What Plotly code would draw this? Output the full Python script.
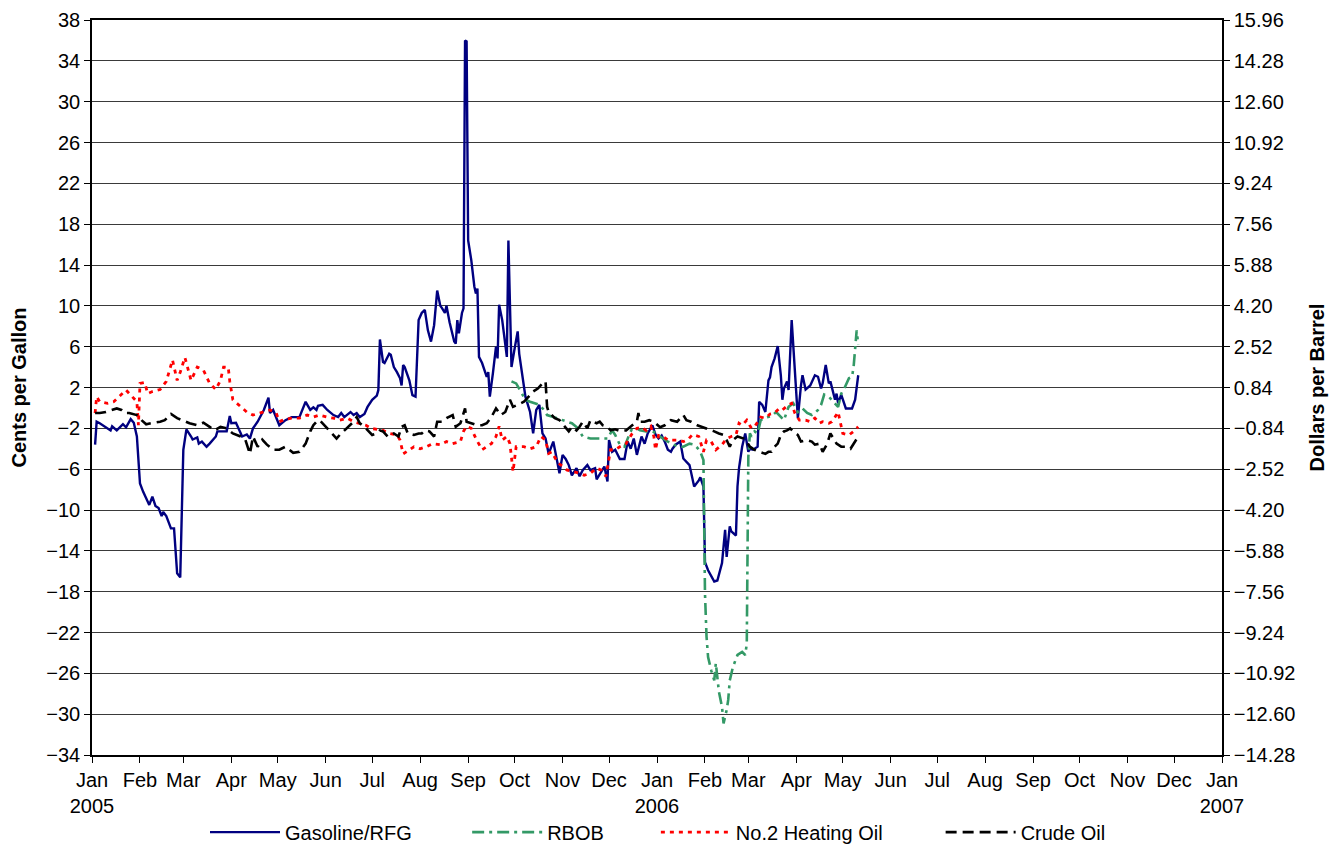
import pandas as pd
import plotly.graph_objects as go

BASE = pd.Timestamp("2005-01-01")

# ---- data: days since 2005-01-01 and values (cents per gallon) ----
gas_day = [2, 3, 5, 12, 13, 16, 20, 22, 25, 27, 29, 31, 33, 37, 39, 41, 43, 45, 46, 48, 51, 53, 55, 57, 59, 61,
           64, 65, 68, 69, 71, 74, 76, 80, 81, 87, 89, 90, 93, 97, 100, 102, 104, 107, 111, 114, 115, 117, 121,
           125, 129, 134, 138, 141, 143, 145, 146, 149, 152, 156, 159, 161, 163, 167, 169, 171, 173, 176, 178,
           181, 184, 185, 186, 188, 189, 192, 193, 195, 197, 199, 200, 201, 202, 205, 207, 209, 211, 213, 215,
           217, 219, 221, 223, 225, 226, 228, 229, 231, 234, 235, 236, 237, 239, 240, 241, 242, 243, 245, 247,
           248, 249, 250, 252, 254, 255, 256, 257, 259, 261, 262, 263, 265, 268, 269, 270, 271, 273, 275, 276,
           278, 280, 282, 283, 285, 287, 289, 291, 293, 295, 298, 300, 302, 304, 306, 308, 310, 313, 315, 317,
           320, 322, 325, 326, 329, 331, 333, 334, 336, 338, 341, 344, 346, 348, 350, 352, 355, 357, 359, 362,
           364, 366, 368, 370, 372, 374, 375, 377, 380, 382, 386, 388, 389, 392, 393, 395, 396, 398, 402, 404,
           407, 409, 410, 412, 413, 416, 417, 418, 420, 422, 424, 425, 427, 430, 431, 433, 435, 437, 438, 439,
           441, 443, 445, 446, 447, 449, 450, 452, 454, 456, 458, 459, 461, 464, 467, 469, 471, 472, 474, 476,
           477, 480, 481, 482, 484, 487, 491, 493, 495]
gas_val = [-3.6, -1.35, -1.5, -2.2, -1.8, -2.2, -1.6, -1.9, -1.1, -1.45, -2.8, -7.4, -8.2, -9.5, -8.7, -9.6, -9.8,
           -10.6, -10.2, -10.6, -11.8, -11.8, -16.2, -16.6, -4.1, -2.1,
           -2.8, -3.1, -2.9, -3.5, -3.3, -3.8, -3.5, -2.8, -2.3, -2.3, -0.8, -1.5, -1.45, -2.8, -2.6, -3.0, -2.0,
           -1.35, -0.2, 1.0, -0.5, -0.2, -1.7,
           -1.2, -0.9, -0.9, 0.6, -0.2, 0.05, -0.2, 0.2, 0.3, -0.2, -0.7, -0.9, -0.5, -0.9, -0.4, -0.7, -0.5,
           -0.9, -0.6, 0.1,
           0.8, 1.2, 1.75, 6.7, 4.5, 4.4, 5.3, 5.2, 4.0, 3.5, 2.9, 2.2, 4.2, 4.0, 2.7, 1.25, 1.1, 8.6, 9.3, 9.6,
           7.6, 6.5, 8.1, 11.5, 10.0, 9.8, 9.3, 10.0, 8.4, 6.5, 6.3, 8.6, 7.3, 9.3, 9.75, 36.0, 35.9, 16.4,
           14.5, 11.9,
           11.2, 11.7, 5.0, 4.4, 3.5, 3.05, 3.5, 1.1, 3.4, 6.0, 4.85, 10.1, 8.6, 5.0, 16.4, 11.0, 4.0, 5.8, 7.5,
           5.3,
           3.4, 1.1, 0.1, -0.4, -2.5, -0.2, 0.3, -2.5, -3.0, -4.5, -3.3, -4.8, -6.4, -4.6, -5.0, -5.6, -6.6,
           -5.9, -6.7, -6.1,
           -5.6, -6.1, -5.9, -7.0, -6.25, -5.75, -7.2, -3.15, -4.3, -4.1, -5.0, -5.0, -3.3, -4.0, -3.0, -4.6,
           -2.8, -3.5, -2.5, -1.7,
           -2.6, -3.0, -2.7, -3.3, -4.1, -4.3, -4.0, -3.6, -3.3, -4.95, -5.6, -6.8, -7.7, -7.1, -6.8, -7.7,
           -15.1, -15.9, -17.0, -16.9,
           -15.2, -11.95, -14.6, -11.6, -12.1, -12.5, -7.7, -5.9, -3.8, -2.5, -4.3, -4.0, -4.1, -3.8, 0.6, 0.3,
           -0.4, 2.7, 3.0, 4.0,
           4.85, 6.05, 3.2, 0.8, 1.9, 2.6, 1.75, 8.6, 4.0, -1.0, 2.2, 3.2, 1.8, 2.2, 3.2, 3.05, 1.9, 2.4, 4.2,
           2.4,
           2.6, 0.8, 1.4, 0.45, 1.3, -0.05, -0.05, 0.8, 3.2]

rbob_day = [271, 274, 277, 280, 283, 286, 289, 292, 294, 297, 300, 307, 310, 314, 317, 322, 328, 333, 336, 338,
            341, 344, 347, 349, 352, 354, 358, 362, 365, 367, 370, 372, 375, 377, 379, 382, 386, 389, 391, 393,
            395, 396, 397, 398, 400, 402, 403, 405, 407, 408, 410, 411, 412, 414, 417, 420, 422, 423, 424, 425,
            426, 428, 430, 432, 434, 436, 439, 442, 444, 447, 450, 453, 456, 459, 462, 465, 467, 469, 471, 473,
            476, 478, 480, 482, 484, 486, 489, 491, 492, 494, 495]
rbob_val = [2.6, 2.4, 1.6, 0.8, 0.6, 0.45, 0.3, -0.2, -0.7, -0.85, -1.0, -1.35, -1.5, -2.0, -2.8, -3.0, -3.0,
            -3.0, -2.2, -2.65,
            -3.6, -3.8, -2.65, -2.0, -2.0, -2.2, -2.3, -2.3, -2.5, -2.8, -3.1, -3.3, -3.5, -3.7, -3.8, -3.8,
            -3.5, -3.6, -3.9, -4.3,
            -5.1, -18.2, -22.4, -24.4, -25.7, -26.7, -25.0, -27.8, -29.3, -30.9, -29.6, -28.6, -26.7, -25.4,
            -24.2, -23.9, -24.2, -23.1, -4.8, -2.5,
            -2.8, -2.3, -2.5, -1.2, -1.0, -0.9, -0.8, -0.4, -0.7, -1.2, 0.1, 0.45, -0.4, -0.05, -0.5, -0.7,
            -0.5, -0.2, 0.3, 1.3,
            1.1, 0.8, 0.45, 0.1, 1.4, 1.9, 2.9, 3.05, 4.0, 7.6, 6.2]

heat_day = [2, 3, 5, 10, 14, 18, 22, 26, 29, 30, 31, 34, 36, 39, 44, 48, 52, 55, 57, 60, 62, 64, 68, 72, 76, 80,
            83, 85, 88, 89, 91, 96, 100, 104, 110, 115, 119, 121,
            125, 129, 134, 139, 143, 147, 152, 156, 160, 165, 169, 173, 177, 180, 184, 188, 192, 197, 199, 201,
            203, 208, 212, 216, 220, 225, 229, 233, 238, 240, 242, 245, 248, 252, 255, 258, 261, 263, 265, 268,
            270, 271, 272, 274, 279, 283, 287, 290, 293, 295, 297, 301, 303, 307, 311, 315, 318, 322, 326, 329,
            332, 335, 338, 341, 345, 349, 352, 355, 358, 361, 363, 364, 366, 369, 372, 375, 379, 382, 385, 388,
            392, 395, 397, 400, 403, 407, 410, 413, 416, 418, 420, 423, 426, 428, 430, 432, 435, 438, 441, 444,
            446, 450, 452, 454, 457, 461, 464, 467, 470, 472, 476, 478, 480, 482, 485, 489, 492, 495]
heat_val = [-0.5, 1.1, 0.6, 0.45, 0.6, 1.2, 1.75, 1.1, 0.6, -1.7, 2.4, 2.5, 1.4, 1.6, 1.8, 2.6, 4.7, 2.7, 3.5,
            4.95, 3.7, 2.7, 4.0, 3.7, 2.4, 1.8,
            2.7, 4.0, 4.0, 2.6, 0.8, 0.1, -0.4, -0.7, -0.4, -0.2, -0.5, -1.35,
            -1.1, -1.0, -1.0, -0.7, -0.9, -0.7, -0.9, -1.0, -1.2, -1.0, -1.35, -1.5, -1.7, -2.0, -2.1, -2.2,
            -2.5, -2.65, -3.15, -4.5,
            -4.3, -3.8, -4.0, -3.8, -3.5, -3.6, -3.3, -3.5, -3.3, -2.3, -1.8, -2.0, -3.0, -4.1, -3.8, -3.5,
            -2.8, -1.8, -3.15, -2.8,
            -3.5, -5.1, -6.25, -3.8, -3.8, -4.0, -3.8, -2.8, -3.15, -4.45, -4.3, -5.4, -5.6, -6.1, -6.25, -6.4,
            -6.6, -6.4, -5.9, -6.1,
            -6.7, -4.1, -4.1, -3.8, -3.5, -2.5, -2.0, -1.9, -2.2, -1.8, -2.8, -4.1, -2.7, -2.8, -3.15, -3.15,
            -3.15, -3.3, -3.1, -2.6,
            -2.8, -4.3, -3.15, -3.3, -4.1, -3.6, -3.0, -2.8, -2.65, -1.5, -1.7, -1.2, -2.0, -1.85, -1.35, -0.9,
            -1.0, -0.6, -0.5, -0.05,
            -0.2, 0.3, 0.45, -0.5, -1.2, -1.2, -1.35, -1.0, -1.5, -1.35, -1.5, -1.35, -0.9, -0.4, -2.5, -2.65,
            -2.3, -1.85]

crude_day = [2, 5, 9, 16, 19, 21, 24, 29, 32, 35, 38, 44, 47, 49, 51, 55, 59, 63, 68, 72, 76, 79, 83, 87, 91, 96,
             99, 102, 104, 107, 110, 113, 117, 121, 125, 130, 134, 138, 141, 143, 145, 147, 152, 155, 158, 160,
             163, 165, 169, 171, 173, 176, 179, 181, 184, 186, 188, 191, 195, 198, 200, 202, 204, 208, 211, 213,
             215, 218, 221, 223, 226, 229, 233, 235, 238, 241, 242, 245, 249, 252, 255, 258, 261, 264, 267, 270,
             272, 275, 279, 283, 285, 288, 291, 293, 294, 295, 297, 299, 302, 306, 308, 310, 313, 315, 317, 320,
             322, 326, 328, 330, 333, 335, 338, 341, 345, 349, 352, 353, 354, 357, 360, 363, 367, 370, 374, 378,
             382, 384, 387, 391, 394, 397, 400, 402, 405, 408, 410, 412, 414, 417, 421, 423, 425, 428, 431, 435,
             437, 439, 441, 443, 445, 447, 449, 451, 453, 456, 458, 462, 465, 467, 470, 472, 475, 477, 479, 481,
             484, 487, 490, 492, 495]
crude_val = [-0.5, -0.5, -0.4, -0.05, -0.2, -0.5, -0.5, -0.7, -1.2, -1.6, -1.5, -1.35, -1.2, -0.9, -0.6, -1.0,
             -1.25, -1.5, -1.7, -1.45, -1.85, -2.2, -1.85, -2.0, -2.5, -2.8,
             -3.1, -4.5, -2.8, -3.8, -3.1, -3.6, -4.1, -4.1, -3.8, -4.4, -4.3, -3.5, -2.3, -1.7, -1.35, -1.2,
             -2.0, -2.5, -3.0, -2.65,
             -2.2, -1.85, -1.35, -0.9, -1.5, -1.85, -2.3, -2.65, -2.5, -2.2, -2.3, -2.8, -2.5, -2.8, -1.85, -1.7,
             -2.5, -2.65, -2.5, -2.5,
             -2.2, -2.3, -2.8, -1.35, -1.35, -1.0, -0.7, -1.85, -1.5, -0.05, -1.35, -1.5, -1.7, -1.7, -1.5, -0.9,
             -0.05, -0.7, -0.4, 0.8,
             0.1, 0.3, 0.6, 1.25, 1.6, 1.9, 2.4, 2.6, 0.1, -0.4, -0.7, -1.0, -1.2, -2.0, -2.3, -1.85, -2.2,
             -1.85, -1.35, -2.0,
             -1.2, -1.5, -1.35, -1.7, -1.85, -2.2, -2.1, -2.25, -2.2, -1.7, -1.35, -0.5, -1.35, -1.35, -1.2,
             -1.35, -1.9, -1.7, -1.2, -1.35,
             -0.7, -1.2, -1.35, -1.7, -1.85, -2.0, -2.2, -2.3, -2.5, -2.65, -3.15, -3.8, -3.15, -2.8, -3.0, -3.3,
             -3.8, -4.1, -4.3, -4.5,
             -4.3, -4.3, -3.8, -3.5, -2.65, -2.3, -2.2, -2.0, -2.3, -2.65, -3.3, -3.15, -3.3, -3.6, -3.5, -4.3,
             -3.5, -2.5, -3.0, -3.5,
             -3.8, -3.8, -4.0, -3.5, -2.8]

month_ticks = pd.date_range("2005-01-01", "2007-01-01", freq="MS")
month_labels = ["Jan<br>2005", "Feb", "Mar", "Apr", "May", "Jun", "Jul", "Aug", "Sep", "Oct", "Nov", "Dec",
                "Jan<br>2006", "Feb", "Mar", "Apr", "May", "Jun", "Jul", "Aug", "Sep", "Oct", "Nov", "Dec",
                "Jan<br>2007"]

CENTS_TO_DOLLARS_PER_BBL = 0.42  # 42 gallons / 100 cents
LEFT_MIN, LEFT_MAX, LEFT_STEP = -34, 38, 4


def to_dates(days):
    return BASE + pd.to_timedelta(days, unit="D")


FONT = "Liberation Sans, Arial, sans-serif"

fig = go.Figure()
fig.add_trace(go.Scatter(x=to_dates(gas_day), y=gas_val, mode="lines", name="Gasoline/RFG", legend="legend",
                         line=dict(color="#000080", width=2.4)))
fig.add_trace(go.Scatter(x=to_dates(rbob_day), y=rbob_val, mode="lines", name="RBOB", legend="legend2",
                         line=dict(color="#339966", width=2.6, dash="12px,5px,3px,5px")))
fig.add_trace(go.Scatter(x=to_dates(heat_day), y=heat_val, mode="lines", name="No.2 Heating Oil",
                         legend="legend3", line=dict(color="#FF0000", width=2.8, dash="4px,5px")))
fig.add_trace(go.Scatter(x=to_dates(crude_day), y=crude_val, mode="lines", name="Crude Oil", legend="legend4",
                         line=dict(color="#000000", width=2.6, dash="11px,6px")))
# secondary axis (dollars per barrel) shares the same scale
fig.add_trace(go.Scatter(x=[month_ticks[0]], y=[None], yaxis="y2", showlegend=False, hoverinfo="skip",
                         mode="lines"))

LEG_Y = -0.105


def leg(x):
    return dict(orientation="h", x=x, xanchor="left", y=LEG_Y, yanchor="middle", font=dict(size=20),
                itemwidth=70, bgcolor="rgba(0,0,0,0)")


# the page body adds an 8px offset, so the figure is 8px smaller and margins shifted
fig.update_layout(
    width=1331, height=836,
    margin=dict(l=84, r=117, t=12, b=89, autoexpand=False),
    paper_bgcolor="white", plot_bgcolor="white",
    font=dict(family=FONT, size=20, color="black"),
    showlegend=True,
    legend=leg(0.100), legend2=leg(0.332), legend3=leg(0.499), legend4=leg(0.751),
    xaxis=dict(type="date", range=[month_ticks[0], month_ticks[-1]], automargin=False,
               tickvals=list(month_ticks), ticktext=month_labels, tickangle=0,
               showgrid=False, showline=True, linecolor="black", linewidth=1.5, mirror=True,
               ticks="outside", ticklen=6, tickcolor="black", zeroline=False,
               tickfont=dict(size=20)),
    yaxis=dict(range=[LEFT_MIN, LEFT_MAX], tick0=LEFT_MIN, dtick=LEFT_STEP, automargin=False,
               showgrid=True, gridcolor="#3a3a3a", gridwidth=1, zeroline=False,
               showline=True, linecolor="black", linewidth=1.5,
               ticks="outside", ticklen=6, tickcolor="black",
               title=dict(text="<b>Cents per Gallon</b>", font=dict(size=20), standoff=14),
               tickfont=dict(size=20)),
    yaxis2=dict(overlaying="y", side="right", automargin=False,
                range=[LEFT_MIN * CENTS_TO_DOLLARS_PER_BBL, LEFT_MAX * CENTS_TO_DOLLARS_PER_BBL],
                tick0=LEFT_MIN * CENTS_TO_DOLLARS_PER_BBL, dtick=LEFT_STEP * CENTS_TO_DOLLARS_PER_BBL,
                tickformat=".2f", showgrid=False, zeroline=False,
                showline=True, linecolor="black", linewidth=1.5,
                ticks="outside", ticklen=6, tickcolor="black",
                title=dict(text="<b>Dollars per Barrel</b>", font=dict(size=20), standoff=16),
                tickfont=dict(size=20)),
)

fig.write_html("out.html")
